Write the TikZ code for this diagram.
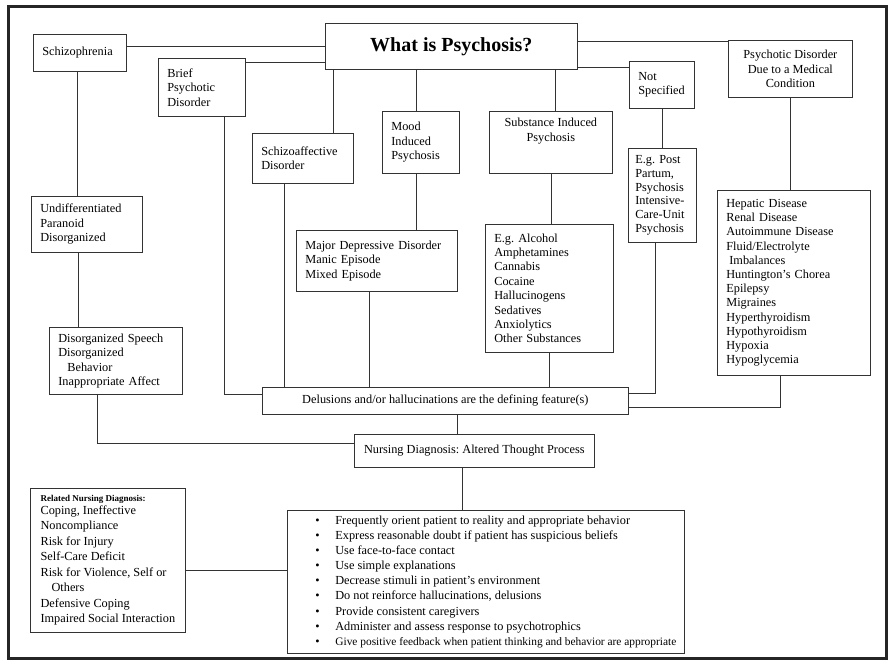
\documentclass[tikz,border=0pt]{standalone}
\usepackage{fontspec}
\setmainfont{Liberation Serif}
\usetikzlibrary{positioning}

\newcommand{\bitem}[1]{\hspace*{20pt}\makebox[20pt][l]{\textbullet}#1}

\tikzset{
  box/.style={draw=black!80, line width=0.7pt, anchor=north west, inner xsep=9pt, inner ysep=2pt, align=left, font=\frenchspacing\fontsize{12.3}{14.5}\selectfont},
  cbox/.style={box, align=center},
  link/.style={draw=black!80, line width=0.7pt},
}

\begin{document}
\begin{tikzpicture}[x=1pt, y=-1pt]
\useasboundingbox (0,0) rectangle (890,666);
\draw[line width=3pt, black!85] (8,6.5) rectangle (886,658);

% first row
\node[cbox, minimum width=252pt, minimum height=46pt, font=\fontsize{20}{24}\selectfont\bfseries] (title) at (325,23) {What is Psychosis?};
\node[box, text width=75pt, minimum height=37pt] (schiz) at (33,34) {Schizophrenia};
\node[box, text width=69pt, minimum height=58pt] (brief) at (158,58) {Brief\\Psychotic\\Disorder};
\node[box, text width=83pt, minimum height=50pt] (schizo) at (252,133) {Schizoaffective\\Disorder};
\node[box, text width=59pt, minimum height=62pt] (mood) at (382,111) {Mood\\Induced\\Psychosis};
\node[cbox, minimum width=123pt, minimum height=62pt] (subst) at (489,111) {\parbox[c][48pt][t]{105pt}{\centering Substance Induced\\Psychosis}};
\node[box, text width=47pt, minimum height=47pt] (notspec) at (629,61) {Not\\Specified};
\node[cbox, minimum width=124pt, minimum height=57pt] (medical) at (728,40) {Psychotic Disorder\\Due to a Medical\\Condition};

% second row
\node[box, text width=93pt, minimum height=56pt] (undiff) at (31,196) {Undifferentiated\\Paranoid\\Disorganized};
\node[box, text width=143pt, minimum height=61pt] (major) at (296,230) {Major Depressive Disorder\\Manic Episode\\Mixed Episode};
\node[box, text width=110pt, minimum height=128pt, font=\frenchspacing\fontsize{12.3}{14.4}\selectfont] (alcohol) at (485,224) {E.g. Alcohol\\Amphetamines\\Cannabis\\Cocaine\\Hallucinogens\\Sedatives\\Anxiolytics\\Other Substances};
\node[box, inner xsep=7pt, text width=54pt, minimum height=94pt, font=\frenchspacing\fontsize{12.3}{13.8}\selectfont] (postpartum) at (628,148) {E.g. Post\\Partum,\\Psychosis\\Intensive-\\Care-Unit\\Psychosis};
\node[box, text width=135pt, minimum height=185pt, font=\frenchspacing\fontsize{12.3}{14.2}\selectfont] (hepatic) at (717,190) {Hepatic Disease\\Renal Disease\\Autoimmune Disease\\Fluid/Electrolyte\\\hspace*{3pt}Imbalances\\Huntington's Chorea\\Epilepsy\\Migraines\\Hyperthyroidism\\Hypothyroidism\\Hypoxia\\Hypoglycemia};
\node[box, text width=115pt, minimum height=67pt] (disorg) at (49,327) {Disorganized Speech\\Disorganized\\\hspace*{9pt}Behavior\\Inappropriate Affect};

% bottom part
\node[cbox, minimum width=366pt, minimum height=27pt] (delus) at (262,387) {Delusions and/or hallucinations are the defining feature(s)};
\node[cbox, minimum width=240pt, minimum height=33pt] (nursing) at (354,434) {Nursing Diagnosis: Altered Thought Process};
\node[box, minimum width=155pt, minimum height=144pt, font=\frenchspacing\fontsize{12.3}{15.5}\selectfont] (related) at (30,488) {{\fontsize{9}{11}\selectfont\bfseries Related Nursing Diagnosis:}\\[-2.5pt]Coping, Ineffective\\Noncompliance\\Risk for Injury\\Self-Care Deficit\\Risk for Violence, Self or\\\hspace*{11pt}Others\\Defensive Coping\\Impaired Social Interaction};
\node[box, inner xsep=8pt, minimum width=396pt, minimum height=143pt, font=\frenchspacing\fontsize{12.3}{15.1}\selectfont] (care) at (287,510) {\bitem{Frequently orient patient to reality and appropriate behavior}\\
  \bitem{Express reasonable doubt if patient has suspicious beliefs}\\
  \bitem{Use face-to-face contact}\\
  \bitem{Use simple explanations}\\
  \bitem{Decrease stimuli in patient's environment}\\
  \bitem{Do not reinforce hallucinations, delusions}\\
  \bitem{Provide consistent caregivers}\\
  \bitem{Administer and assess response to psychotrophics}\\
  \bitem{\fontsize{11.4}{15.1}\selectfont Give positive feedback when patient thinking and behavior are appropriate}};

% links from the title
\draw[link] (title.west) -- (title.west -| schiz.east);
\draw[link] ([yshift=-4pt]brief.north east) -- ([yshift=-4pt]brief.north east -| title.west);
\draw[link] ([xshift=8pt]title.south west) -- ([xshift=8pt]title.south west |- schizo.north);
\draw[link] ([xshift=-4.5pt]mood.north |- title.south) -- ([xshift=-4.5pt]mood.north);
\draw[link] ([xshift=4.5pt]subst.north |- title.south) -- ([xshift=4.5pt]subst.north);
\draw[link] ([yshift=2pt]title.south east) -- ([yshift=2pt]title.south east -| notspec.west);
\draw[link] ([yshift=-1.5pt]medical.north west) -- ([yshift=-1.5pt]medical.north west -| title.east);

% second level
\draw[link] ([xshift=-2.5pt]schiz.south) -- ([xshift=-2.5pt]schiz.south |- undiff.north);
\draw[link] ([xshift=-1.5pt]schiz.south |- undiff.south) -- ([xshift=-1.5pt]schiz.south |- disorg.north);
\draw[link] ([xshift=-4.5pt]mood.south) -- ([xshift=-4.5pt]mood.south |- major.north);
\draw[link] (subst.south) -- (subst.south |- alcohol.north);
\draw[link] (notspec.south) -- (notspec.south |- postpartum.north);
\draw[link] (medical.south) -- (medical.south |- hepatic.north);

% into the defining feature
\draw[link] ([xshift=22.5pt]brief.south) |- ([yshift=6.5pt]delus.west);
\draw[link] ([xshift=-18.5pt]schizo.south) -- ([xshift=-18.5pt]schizo.south |- delus.north);
\draw[link] ([xshift=-7.5pt]major.south) -- ([xshift=-7.5pt]major.south |- delus.north);
\draw[link] (alcohol.south) -- (alcohol.south |- delus.north);
\draw[link] ([xshift=-7pt]postpartum.south) |- ([yshift=7.5pt]delus.east);
\draw[link] ([xshift=-13.5pt]hepatic.south) |- ([yshift=-6.5pt]delus.east);

% down to the care plan
\draw[link] ([xshift=12pt]delus.south) -- ([xshift=12pt]delus.south |- nursing.north);
\draw[link] ([xshift=-18.5pt]disorg.south) |- ([yshift=7.5pt]nursing.west);
\draw[link] ([xshift=-23pt]care.north) -- ([xshift=-23pt]care.north |- nursing.south);
\draw[link] ([yshift=-10pt]related.east) -- ([yshift=-10pt]related.east -| care.west);
\end{tikzpicture}
\end{document}
